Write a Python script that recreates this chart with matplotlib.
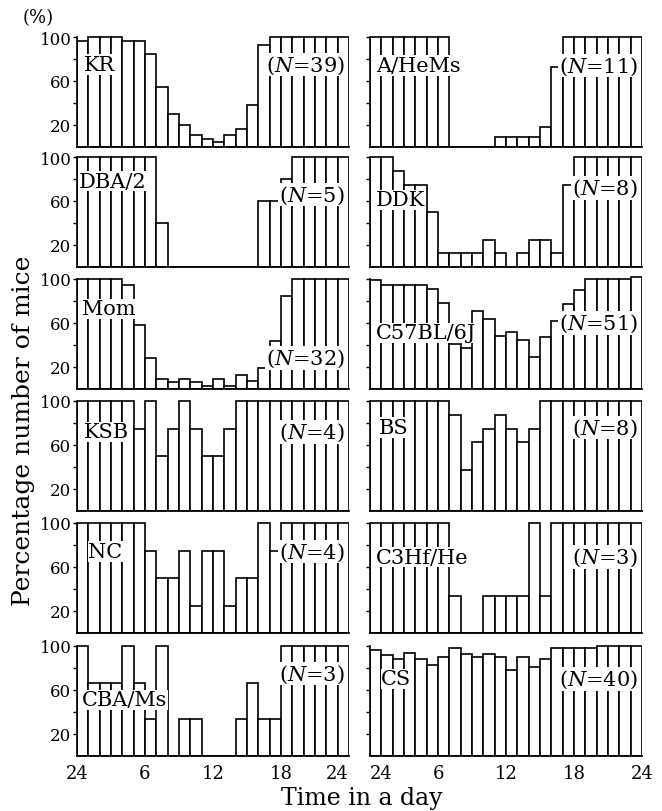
import matplotlib
matplotlib.use('Agg')
import matplotlib.pyplot as plt

plt.rcParams['font.family'] = ['DejaVu Serif']
plt.rcParams['mathtext.fontset'] = 'dejavuserif'

# ---------------- data ----------------
hours = list(range(24))
x_ticks = [0, 6, 12, 18, 24]
x_tick_labels = ['24', '6', '12', '18', '24']
y_ticks = [20, 40, 60, 80, 100]
y_tick_labels = ['20', '', '60', '', '100']

kr = [96, 100, 100, 100, 96, 96, 85, 55, 30, 20, 11, 7, 5, 11, 16, 38, 93,
      100, 100, 100, 100, 100, 100, 100]
a_hems = [100, 100, 100, 100, 100, 100, 100, 0, 0, 0, 0, 9.1, 9.1, 9.1, 9.1,
          18.2, 72.7, 100, 100, 100, 100, 100, 100, 100]
dba2 = [100, 100, 100, 100, 100, 100, 100, 40, 0, 0, 0, 0, 0, 0, 0, 0,
        60, 60, 80, 100, 100, 100, 100, 100]
ddk = [100, 100, 87.5, 75, 75, 50, 12.5, 12.5, 12.5, 12.5, 25, 12.5, 0, 12.5,
       25, 25, 12.5, 75, 100, 100, 100, 100, 100, 100]
mom = [100, 100, 100, 100, 95, 58, 28, 9, 6, 9, 6, 3, 9, 3, 13, 7, 19, 44, 85,
       100, 100, 100, 100, 100]
c57 = [99, 95, 95, 95, 95, 91, 78, 41, 37, 71, 64, 48, 52, 45, 29, 47, 62, 77,
       90, 100, 100, 100, 100, 102]
ksb = [100, 100, 100, 100, 100, 75, 100, 50, 75, 100, 75, 50, 50, 75,
       100, 100, 100, 100, 100, 100, 100, 100, 100, 100]
bs = [100, 100, 100, 100, 100, 100, 100, 87.5, 37.5, 62.5, 75, 87.5, 75, 62.5,
      75, 100, 100, 100, 100, 100, 100, 100, 100, 100]
nc = [100, 100, 100, 100, 100, 100, 75, 50, 50, 75, 25, 75, 75, 25, 50, 50,
      100, 75, 100, 100, 100, 100, 100, 100]
c3hf = [100, 100, 100, 100, 100, 100, 100, 33.3, 0, 0, 33.3, 33.3, 33.3, 33.3,
        100, 33.3, 100, 100, 100, 100, 100, 100, 100, 100]
cbams = [100, 66.7, 66.7, 66.7, 100, 66.7, 33.3, 100, 0, 33.3, 33.3, 0, 0, 0,
         33.3, 66.7, 33.3, 33.3, 100, 100, 100, 100, 100, 100]
cs = [96, 92, 88, 94, 88, 83, 90, 98, 93, 90, 93, 90, 78, 90, 81, 88, 98, 98,
      98, 98, 100, 100, 100, 100]

strain_names = ['KR', 'A/HeMs', 'DBA/2', 'DDK', 'Mom', 'C57BL/6J',
                'KSB', 'BS', 'NC', 'C3Hf/He', 'CBA/Ms', 'CS']
strain_n = [39, 11, 5, 8, 32, 51, 4, 8, 4, 3, 3, 40]
series = [kr, a_hems, dba2, ddk, mom, c57, ksb, bs, nc, c3hf, cbams, cs]

# label placement (x of name, y of name, y of N label) -- layout only
label_layout = [
    (0.6, 75, 75), (0.5, 74, 74),
    (0.2, 78, 66), (0.5, 61, 72),
    (0.4, 73, 28), (0.5, 51, 60),
    (0.6, 72, 72), (0.8, 76, 76),
    (1.0, 74, 74), (0.5, 69, 69),
    (0.4, 51, 75), (1.0, 70, 70),
]

# ---------------- figure ----------------
W, H = 662, 812
fig = plt.figure(figsize=(W / 100, H / 100), dpi=100)
fig.patch.set_facecolor('white')

col_x = [77, 370]
panel_w = 272
baselines = [148, 268, 390, 512, 634, 757]
unit100 = 110
ytop = 106

for i, vals in enumerate(series):
    row, col = divmod(i, 2)
    b = baselines[row]
    ax = fig.add_axes([col_x[col] / W, (H - b) / H, panel_w / W,
                       unit100 * ytop / 100 / H])
    ax.bar(hours, vals, width=1, align='edge', color='white',
           edgecolor='black', linewidth=1.2, zorder=2)
    ax.set_xlim(0, 24)
    ax.set_ylim(0, ytop)
    ax.patch.set_alpha(0)
    for s in ['top', 'right']:
        ax.spines[s].set_visible(False)
    ax.spines['left'].set_bounds(0, 100)
    ax.spines['left'].set_linewidth(1.2)
    ax.spines['bottom'].set_linewidth(1.3)
    ax.set_yticks(y_ticks)
    if col == 0:
        ax.set_yticklabels(y_tick_labels, fontsize=12)
    else:
        ax.set_yticklabels([])
    ax.tick_params(axis='y', direction='out', length=3, width=1, pad=1)
    ax.set_xticks(x_ticks)
    if row == 5:
        labels = ax.set_xticklabels(x_tick_labels, fontsize=13)
        if col == 0:
            labels[-1].set_horizontalalignment('right')
        else:
            labels[0].set_horizontalalignment('left')
    else:
        ax.set_xticklabels([])
    ax.tick_params(axis='x', length=0, pad=6)

    lx, ly, ny = label_layout[i]
    box = dict(facecolor='white', edgecolor='none', pad=0.5)
    ax.text(lx, ly, strain_names[i], ha='left', va='center', fontsize=15,
            bbox=box, zorder=5)
    ax.text(23.6, ny, '($\\mathit{N}$=%d)' % strain_n[i], ha='right',
            va='center', fontsize=15, bbox=box, zorder=5)

fig.text(0.058, 0.978, '(%)', fontsize=13, ha='center', va='center')
fig.text(0.036, 0.47, 'Percentage number of mice', rotation=90,
         fontsize=18, ha='center', va='center')
fig.text(0.547, 0.017, 'Time in a day', fontsize=17, ha='center',
         va='center')

fig.savefig('out.png', dpi=100, facecolor='white')
